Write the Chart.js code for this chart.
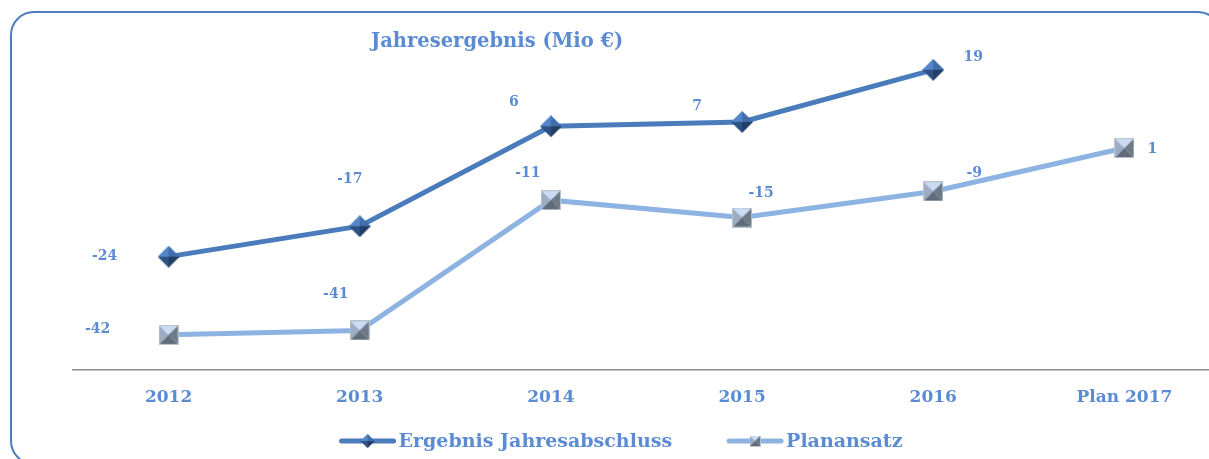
<!DOCTYPE html>
<html>
<head>
<meta charset="utf-8">
<script src="https://cdn.jsdelivr.net/npm/chart.js@4.4.0/dist/chart.umd.min.js"></script>
<style>
html, body { margin: 0; padding: 0; background: #fff; overflow: hidden; width: 1209px; height: 459px; }
#wrap { position: relative; width: 1240px; height: 459px; }
#frame { position: absolute; left: 10px; top: 11px; width: 1212px; height: 454px; border: 2px solid #4a7dbd; border-radius: 24px; box-sizing: border-box; }
#chart { position: absolute; left: 0; top: 0; }
</style>
</head>
<body>
<div id="wrap">
  <div id="frame"></div>
  <canvas id="chart" width="1240" height="459"></canvas>
</div>
<script>
/* Daten */
var categories = ['2012', '2013', '2014', '2015', '2016', 'Plan 2017'];
var ergebnis = [-24, -17, 6, 7, 19, null];
var planansatz = [-42, -41, -11, -15, -9, 1];

/* Versatz der Wertbeschriftungen relativ zum Punkt */
var ergebnisLabelOffset = [[-64, 0], [-10, -47], [-37, -24], [-45, -16], [40, -12], null];
var planLabelOffset = [[-71, -5], [-24, -36], [-23, -27], [19, -24], [41, -18], [28, 1]];

var textColor = '#5b8bd3';
var serif = "'DejaVu Serif', serif";

function tri(g, a, b, c, color) {
    g.beginPath();
    g.moveTo(a[0], a[1]);
    g.lineTo(b[0], b[1]);
    g.lineTo(c[0], c[1]);
    g.closePath();
    g.fillStyle = color;
    g.fill();
}

/* Raute im Pyramiden-Look */
function diamondMarker() {
    var s = 22, m = s / 2;
    var c = document.createElement('canvas');
    c.width = s; c.height = s;
    var g = c.getContext('2d');
    tri(g, [m, 0], [0, m], [m, m], '#5286c8');
    tri(g, [m, 0], [s, m], [m, m], '#3f6eab');
    tri(g, [0, m], [m, s], [m, m], '#2f5286');
    tri(g, [s, m], [m, s], [m, m], '#223f68');
    return c;
}

/* Quadrat im Pyramiden-Look */
function squareMarker() {
    var s = 20, m = s / 2;
    var c = document.createElement('canvas');
    c.width = s; c.height = s;
    var g = c.getContext('2d');
    tri(g, [0, 0], [s, 0], [m, m], '#c9dcf3');
    tri(g, [0, 0], [0, s], [m, m], '#9cacc2');
    tri(g, [s, 0], [s, s], [m, m], '#6f7a89');
    tri(g, [0, s], [s, s], [m, m], '#616c7b');
    g.strokeStyle = '#b9c3cf';
    g.lineWidth = 1;
    g.strokeRect(0.5, 0.5, s - 1, s - 1);
    return c;
}

var diamond = diamondMarker();
var square = squareMarker();

var offsets = [ergebnisLabelOffset, planLabelOffset];

var decorations = {
    id: 'decorations',
    afterDatasetsDraw: function (chart) {
        var ctx = chart.ctx;
        ctx.save();
        ctx.font = 'bold 14px ' + serif;
        ctx.fillStyle = textColor;
        ctx.textAlign = 'center';
        ctx.textBaseline = 'middle';
        chart.data.datasets.forEach(function (ds, di) {
            var meta = chart.getDatasetMeta(di);
            meta.data.forEach(function (pt, i) {
                var v = ds.data[i];
                var off = offsets[di][i];
                if (v === null || !off) return;
                ctx.fillText(String(v), pt.x + off[0], pt.y + off[1]);
            });
        });

        /* Titel */
        ctx.font = 'bold 19.5px ' + serif;
        ctx.textAlign = 'left';
        ctx.fillText('Jahresergebnis (Mio €)', 371, 42);

        /* Legende */
        ctx.font = 'bold 19px ' + serif;
        var items = [
            { text: chart.data.datasets[0].label, color: chart.data.datasets[0].borderColor, marker: diamond, ms: 0.65 },
            { text: chart.data.datasets[1].label, color: chart.data.datasets[1].borderColor, marker: square, ms: 0.55 }
        ];
        var lw = 56, gap = 3, sep = 55, total = 0;
        items.forEach(function (it, i) {
            it.tw = ctx.measureText(it.text).width;
            total += lw + gap + it.tw + (i ? sep : 0);
        });
        var x = 621 - total / 2, y = 441;
        items.forEach(function (it) {
            ctx.strokeStyle = it.color;
            ctx.lineWidth = 5;
            ctx.lineCap = 'round';
            ctx.beginPath();
            ctx.moveTo(x + 2, y);
            ctx.lineTo(x + lw - 2, y);
            ctx.stroke();
            var mw = it.marker.width * it.ms, mh = it.marker.height * it.ms;
            ctx.drawImage(it.marker, x + lw / 2 - mw / 2, y - mh / 2, mw, mh);
            ctx.fillStyle = textColor;
            ctx.fillText(it.text, x + lw + gap, y + 1);
            x += lw + gap + it.tw + sep;
        });
        ctx.restore();
    }
};

var ctxChart = document.getElementById('chart');

var chartResult = new Chart(ctxChart, {
    type: 'line',
    data: {
        labels: categories,
        datasets: [
            {
                label: 'Ergebnis Jahresabschluss',
                data: ergebnis,
                borderColor: '#4a7cbc',
                borderWidth: 5,
                pointStyle: diamond,
                pointRadius: 11,
                tension: 0
            },
            {
                label: 'Planansatz',
                data: planansatz,
                borderColor: '#8db3e2',
                borderWidth: 5,
                pointStyle: square,
                pointRadius: 10,
                tension: 0
            }
        ]
    },
    options: {
        responsive: false,
        maintainAspectRatio: false,
        animation: false,
        layout: {
            padding: { left: 73, right: 20, top: 22, bottom: 33 }
        },
        plugins: {
            legend: { display: false },
            tooltip: { enabled: false },
            title: { display: false }
        },
        scales: {
            x: {
                offset: true,
                grid: { display: false, drawTicks: false },
                border: { display: true, color: '#8c8c8c', width: 1.5 },
                ticks: {
                    padding: 18,
                    color: textColor,
                    font: { family: serif, size: 17, weight: 'bold' }
                }
            },
            y: {
                display: false,
                min: -50,
                max: 30
            }
        }
    },
    plugins: [decorations]
});
</script>
</body>
</html>
